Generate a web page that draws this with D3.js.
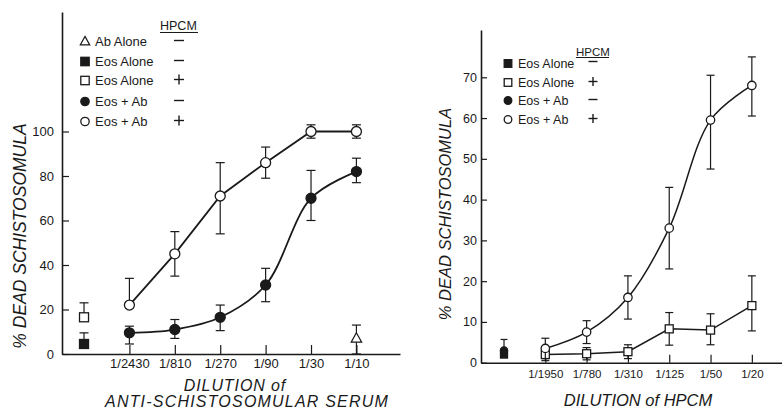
<!DOCTYPE html>
<html>
<head>
<meta charset="utf-8">
<script src="https://cdn.jsdelivr.net/npm/d3@7/dist/d3.min.js"></script>
<style>
  html, body { margin: 0; padding: 0; background: #fff; }
  svg { display: block; }
  text { font-family: "Liberation Sans", Arial, sans-serif; fill: #1a1a1a; }
</style>
</head>
<body>
<svg id="fig" width="782" height="410"></svg>
<script>
// ---- Panel A: dilution of anti-schistosomular serum ----
const serumDilutions = ["1/2430", "1/810", "1/270", "1/90", "1/30", "1/10"];
const serumTicks = [0, 20, 40, 60, 80, 100];

// Eos + Ab, HPCM +
const serumEosAbPlus = [22, 45, 71, 86, 100, 100];
const serumEosAbPlusHi = [12, 10, 15, 7, 3, 3];
const serumEosAbPlusLo = [0, 10, 17, 7, 3, 3];
// Eos + Ab, HPCM -
const serumEosAbMinus = [9.5, 11, 16.5, 31, 70, 82];
const serumEosAbMinusHi = [3, 4.5, 5.5, 7.5, 12.5, 6];
const serumEosAbMinusLo = [5, 4, 6, 7.5, 10, 5];
// Controls without serum (Eos alone) and Ab alone at 1/10
const serumEosAlonePlus = 16.5, serumEosAlonePlusHi = 6.5;
const serumEosAloneMinus = 4.5, serumEosAloneMinusHi = 5;
const serumAbAlone = 7, serumAbAloneHi = 6, serumAbAloneLo = 7;

// ---- Panel B: dilution of HPCM ----
const hpcmDilutions = ["1/1950", "1/780", "1/310", "1/125", "1/50", "1/20"];
const hpcmTicks = [0, 10, 20, 30, 40, 50, 60, 70];

// Eos + Ab, HPCM +
const hpcmEosAbPlus = [3.5, 7.5, 16, 33, 59.5, 68];
const hpcmEosAbPlusHi = [2.5, 2.8, 5.3, 10, 11, 7];
const hpcmEosAbPlusLo = [2.5, 2.8, 5.3, 10, 12, 7.5];
// Eos alone, HPCM +
const hpcmEosAlonePlus = [2, 2.2, 2.7, 8.3, 8, 14];
const hpcmEosAlonePlusHi = [1.5, 1.5, 1.7, 4, 4, 7.3];
const hpcmEosAlonePlusLo = [1.5, 1.5, 1.7, 4, 3.6, 6.2];
// Controls without HPCM
const hpcmEosAloneMinus = 2, hpcmEosAloneMinusHi = 2;
const hpcmEosAbMinus = 3, hpcmEosAbMinusHi = 2.7;

const svg = d3.select("#fig");
const ink = "#1a1a1a";

function marker(g, shape, filled, cx, cy, r) {
  const fill = filled ? ink : "#fff";
  if (shape === "circle") {
    g.append("circle").attr("cx", cx).attr("cy", cy).attr("r", r)
      .attr("fill", fill).attr("stroke", ink).attr("stroke-width", 1.3);
  } else if (shape === "square") {
    g.append("rect").attr("x", cx - r).attr("y", cy - r)
      .attr("width", 2 * r).attr("height", 2 * r)
      .attr("fill", fill).attr("stroke", ink).attr("stroke-width", 1.3);
  } else {
    const h = r * 1.9;
    g.append("path")
      .attr("d", `M${cx},${cy - h * 0.6}L${cx + r * 1.05},${cy + h * 0.4}L${cx - r * 1.05},${cy + h * 0.4}Z`)
      .attr("fill", fill).attr("stroke", ink).attr("stroke-width", 1.2);
  }
}

// HPCM present (+) / absent (-) sign drawn as strokes
function sign(g, plus, cx, cy, w) {
  g.append("line").attr("x1", cx - w / 2).attr("x2", cx + w / 2).attr("y1", cy).attr("y2", cy)
    .attr("stroke", ink).attr("stroke-width", 1.4);
  if (plus) {
    g.append("line").attr("x1", cx).attr("x2", cx).attr("y1", cy - w / 2).attr("y2", cy + w / 2)
      .attr("stroke", ink).attr("stroke-width", 1.4);
  }
}

function errorBar(g, x, y, i, v, hi, lo, cap) {
  const px = x(i);
  if (hi > 0) {
    g.append("line").attr("x1", px).attr("x2", px).attr("y1", y(v)).attr("y2", y(v + hi))
      .attr("stroke", ink).attr("stroke-width", 1.2);
    g.append("line").attr("x1", px - cap).attr("x2", px + cap).attr("y1", y(v + hi)).attr("y2", y(v + hi))
      .attr("stroke", ink).attr("stroke-width", 1.2);
  }
  if (lo > 0) {
    g.append("line").attr("x1", px).attr("x2", px).attr("y1", y(v)).attr("y2", y(v - lo))
      .attr("stroke", ink).attr("stroke-width", 1.2);
    g.append("line").attr("x1", px - cap).attr("x2", px + cap).attr("y1", y(v - lo)).attr("y2", y(v - lo))
      .attr("stroke", ink).attr("stroke-width", 1.2);
  }
}

function series(g, x, y, vals, hi, lo, shape, filled, r, cap, lw, curve) {
  vals.forEach((v, i) => errorBar(g, x, y, i, v, hi[i], lo[i], cap));
  const line = d3.line().x((d, i) => x(i)).y(d => y(d)).curve(curve);
  g.append("path").datum(vals).attr("d", line)
    .attr("fill", "none").attr("stroke", ink).attr("stroke-width", lw);
  vals.forEach((v, i) => marker(g, shape, filled, x(i), y(v), r));
}

function styleAxis(sel, size) {
  sel.selectAll("path.domain").attr("stroke", ink).attr("stroke-width", 1.6);
  sel.selectAll(".tick line").attr("stroke", ink).attr("stroke-width", 1.2);
  sel.selectAll(".tick text").attr("font-size", size).attr("fill", ink)
    .style("font-family", "'Liberation Sans', Arial, sans-serif");
}

const smooth = d3.curveCatmullRom.alpha(0.5);

// ================= Panel A =================
{
  const g = svg.append("g");
  // index -1 is the control slot left of the first dilution
  const x = d3.scaleLinear().domain([-1.485, 5.96]).range([62, 400]);
  const y = d3.scaleLinear().domain([0, 153.7]).range([354, 12]);

  const yAxis = g.append("g").attr("transform", "translate(62,0)")
    .call(d3.axisLeft(y).tickValues(serumTicks).tickSizeInner(-7).tickSizeOuter(0).tickPadding(8));
  styleAxis(yAxis, 13);
  const xAxis = g.append("g").attr("transform", "translate(0,354)")
    .call(d3.axisBottom(x).tickValues(d3.range(serumDilutions.length))
      .tickFormat(i => serumDilutions[i]).tickSizeInner(-9).tickSizeOuter(0).tickPadding(5));
  styleAxis(xAxis, 13);

  series(g, x, y, serumEosAbMinus, serumEosAbMinusHi, serumEosAbMinusLo, "circle", true, 5, 4.5, 1.8, smooth);
  series(g, x, y, serumEosAbPlus, serumEosAbPlusHi, serumEosAbPlusLo, "circle", false, 5, 4.5, 1.8, d3.curveLinear);

  errorBar(g, x, y, -1, serumEosAlonePlus, serumEosAlonePlusHi, 0, 4.5);
  marker(g, "square", false, x(-1), y(serumEosAlonePlus), 4.5);
  errorBar(g, x, y, -1, serumEosAloneMinus, serumEosAloneMinusHi, 0, 4.5);
  marker(g, "square", true, x(-1), y(serumEosAloneMinus), 4.5);
  errorBar(g, x, y, 5, serumAbAlone, serumAbAloneHi, serumAbAloneLo, 4.5);
  marker(g, "triangle", false, x(5), y(serumAbAlone), 5);

  // Legend
  const lg = g.append("g");
  lg.append("text").attr("x", 160).attr("y", 30).attr("font-size", 12.5).text("HPCM");
  lg.append("line").attr("x1", 160).attr("x2", 198).attr("y1", 32.5).attr("y2", 32.5)
    .attr("stroke", ink).attr("stroke-width", 1.2);
  const rowsA = [
    { shape: "triangle", filled: false, label: "Ab Alone", plus: false },
    { shape: "square", filled: true, label: "Eos Alone", plus: false },
    { shape: "square", filled: false, label: "Eos Alone", plus: true },
    { shape: "circle", filled: true, label: "Eos + Ab", plus: false },
    { shape: "circle", filled: false, label: "Eos + Ab", plus: true }
  ];
  const rowYA = [46, 66, 85, 106, 126];
  rowsA.forEach((d, i) => {
    const by = rowYA[i];
    marker(lg, d.shape, d.filled, 85, by - 4.5, d.shape === "triangle" ? 4.5 : 4.2);
    lg.append("text").attr("x", 95).attr("y", by).attr("font-size", 13).text(d.label);
    sign(lg, d.plus, 179, by - 5.5, 10);
  });

  // Axis titles
  g.append("text").attr("transform", "translate(26,236) rotate(-90)")
    .attr("text-anchor", "middle").attr("font-size", 17.5).attr("font-style", "italic")
    .text("% DEAD SCHISTOSOMULA");
  g.append("text").attr("x", 235).attr("y", 391).attr("text-anchor", "middle")
    .attr("font-size", 16).attr("letter-spacing", 0.9).attr("font-style", "italic").text("DILUTION of");
  g.append("text").attr("x", 247).attr("y", 407).attr("text-anchor", "middle")
    .attr("font-size", 16).attr("letter-spacing", 1.2).attr("font-style", "italic").text("ANTI-SCHISTOSOMULAR SERUM");
}

// ================= Panel B =================
{
  const g = svg.append("g");
  const x = d3.scaleLinear().domain([-1.557, 5.73]).range([481, 782]);
  const y = d3.scaleLinear().domain([0, 81.6]).range([362.7, 30]);

  const yAxis = g.append("g").attr("transform", "translate(481,0)")
    .call(d3.axisLeft(y).tickValues(hpcmTicks).tickSizeInner(-6).tickSizeOuter(0).tickPadding(4));
  styleAxis(yAxis, 12.5);
  const xAxis = g.append("g").attr("transform", "translate(0,362.7)")
    .call(d3.axisBottom(x).tickValues(d3.range(hpcmDilutions.length))
      .tickFormat(i => hpcmDilutions[i]).tickSizeInner(-8).tickSizeOuter(0).tickPadding(7.5));
  styleAxis(xAxis, 11.5);

  series(g, x, y, hpcmEosAlonePlus, hpcmEosAlonePlusHi, hpcmEosAlonePlusLo, "square", false, 4, 4, 1.5, d3.curveLinear);
  series(g, x, y, hpcmEosAbPlus, hpcmEosAbPlusHi, hpcmEosAbPlusLo, "circle", false, 4.2, 4, 1.5, smooth);

  errorBar(g, x, y, -1, hpcmEosAbMinus, hpcmEosAbMinusHi, 0, 3.5);
  marker(g, "square", true, x(-1), y(hpcmEosAloneMinus), 3.5);
  marker(g, "circle", true, x(-1), y(hpcmEosAbMinus), 3.6);

  // Legend
  const lg = g.append("g");
  lg.append("text").attr("x", 576).attr("y", 55.5).attr("font-size", 11.5).text("HPCM");
  lg.append("line").attr("x1", 576).attr("x2", 609).attr("y1", 57.5).attr("y2", 57.5)
    .attr("stroke", ink).attr("stroke-width", 1.1);
  const rowsB = [
    { shape: "square", filled: true, label: "Eos Alone", plus: false, cy: 61.5 },
    { shape: "square", filled: false, label: "Eos Alone", plus: true, cy: 81.5 },
    { shape: "circle", filled: true, label: "Eos + Ab", plus: false, cy: 99.5 },
    { shape: "circle", filled: false, label: "Eos + Ab", plus: true, cy: 118.5 }
  ];
  const rowYB = [68, 87, 105, 124];
  rowsB.forEach((d, i) => {
    const by = rowYB[i];
    marker(lg, d.shape, d.filled, 508, by - 4.5, 3.8);
    lg.append("text").attr("x", 518).attr("y", by).attr("font-size", 12.5).text(d.label);
    sign(lg, d.plus, 593, d.cy, 9);
  });

  g.append("text").attr("transform", "translate(451,214) rotate(-90)")
    .attr("text-anchor", "middle").attr("font-size", 16.5).attr("font-style", "italic")
    .text("% DEAD SCHISTOSOMULA");
  g.append("text").attr("x", 638).attr("y", 406).attr("text-anchor", "middle")
    .attr("font-size", 16.5).attr("font-style", "italic").text("DILUTION of HPCM");
}
</script>
</body>
</html>
